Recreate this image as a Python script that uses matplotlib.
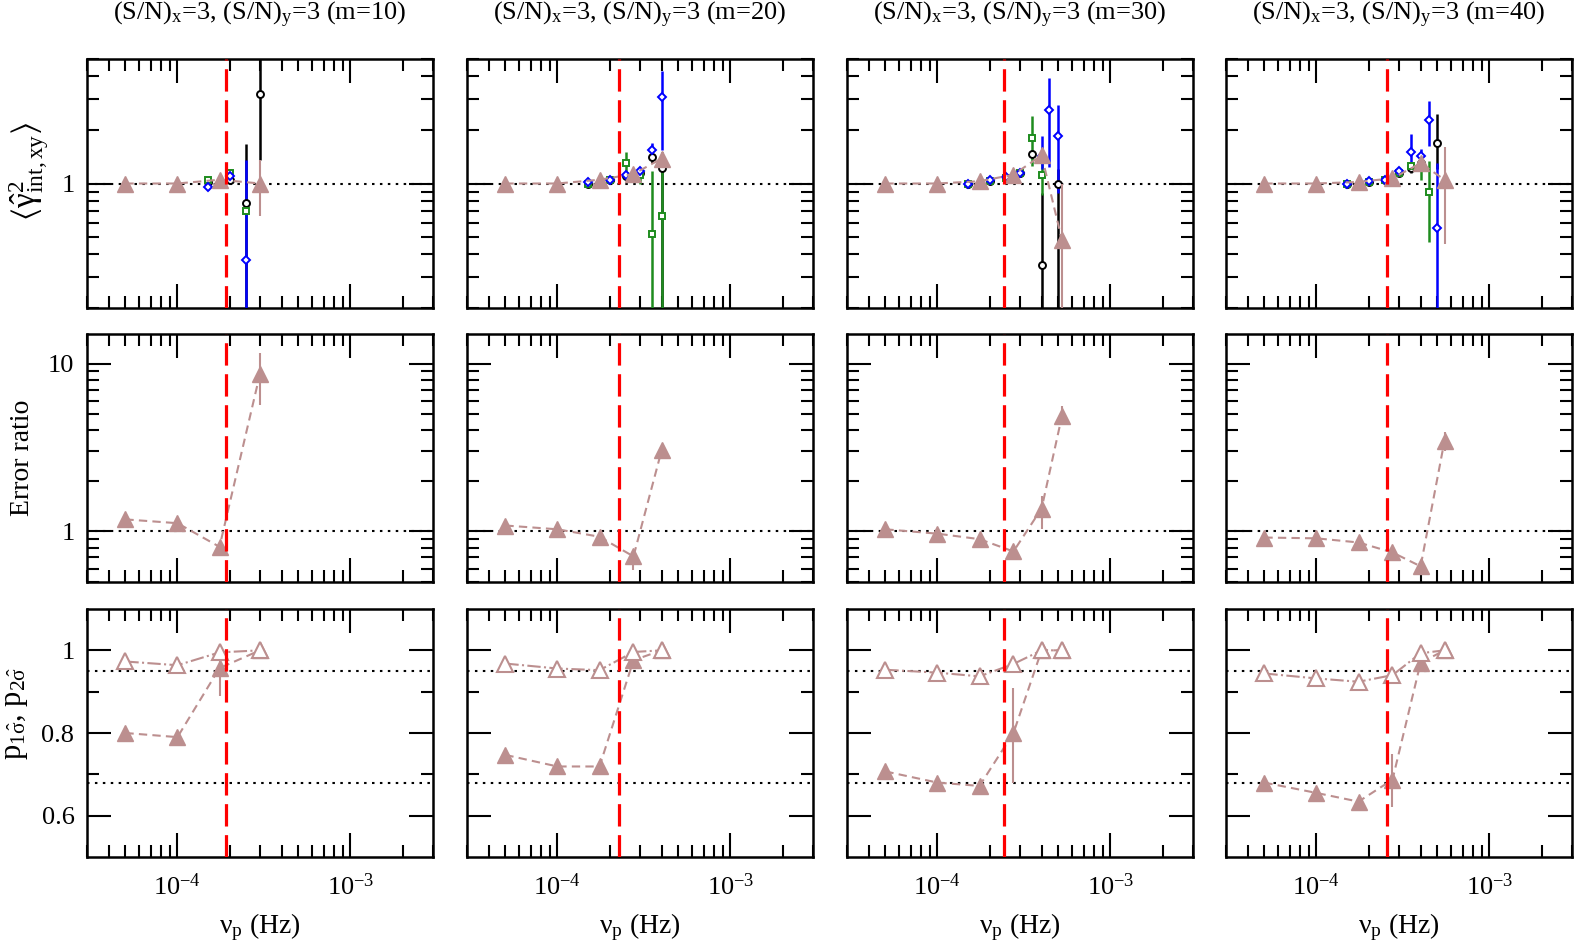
import numpy as np
import matplotlib
matplotlib.use("Agg")
import matplotlib.pyplot as plt
from matplotlib import ticker

plt.rcParams['font.family'] = ['Liberation Serif', 'DejaVu Serif']
plt.rcParams['mathtext.fontset'] = 'custom'
plt.rcParams['mathtext.rm'] = 'Liberation Serif'
plt.rcParams['mathtext.it'] = 'Liberation Serif:italic'
plt.rcParams['mathtext.default'] = 'regular'
plt.rcParams['font.size'] = 19

# ---- data ----
m_values = [10, 20, 30, 40]
nu_break = [1.92e-4, 2.28e-4, 2.44e-4, 2.57e-4]

# brown triangles (same x for all three rows)
nu_tri = [
    [5e-5, 1e-4, 1.75e-4, 3e-4],
    [5e-5, 1e-4, 1.75e-4, 2.75e-4, 4e-4],
    [5e-5, 1e-4, 1.75e-4, 2.75e-4, 4e-4, 5.25e-4],
    [5e-5, 1e-4, 1.75e-4, 2.75e-4, 4e-4, 5.5e-4],
]
gamma_tri = [
    [1.0, 1.0, 1.05, 1.0],
    [1.0, 1.0, 1.05, 1.13, 1.38],
    [1.0, 1.0, 1.03, 1.12, 1.44, 0.48],
    [1.0, 1.0, 1.02, 1.07, 1.30, 1.05],
]
gamma_tri_lo = [
    [1.0, 1.0, 1.05, 0.66],
    [1.0, 1.0, 1.05, 1.13, 1.30],
    [1.0, 1.0, 1.03, 1.12, 1.38, 0.05],
    [1.0, 1.0, 1.02, 1.07, 1.22, 0.46],
]
gamma_tri_hi = [
    [1.0, 1.0, 1.05, 1.35],
    [1.0, 1.0, 1.05, 1.13, 1.46],
    [1.0, 1.0, 1.03, 1.12, 1.50, 1.0],
    [1.0, 1.0, 1.02, 1.07, 1.38, 1.60],
]

# error ratio
ratio = [
    [1.18, 1.12, 0.81, 8.7],
    [1.085, 1.03, 0.93, 0.71, 3.04],
    [1.03, 0.97, 0.90, 0.76, 1.37, 4.9],
    [0.92, 0.91, 0.86, 0.75, 0.62, 3.48],
]
ratio_lo = [
    [1.18, 1.12, 0.81, 5.7],
    [1.085, 1.03, 0.93, 0.59, 2.9],
    [1.03, 0.97, 0.90, 0.76, 1.03, 4.3],
    [0.92, 0.91, 0.86, 0.75, 0.62, 3.0],
]
ratio_hi = [
    [1.18, 1.12, 0.81, 11.6],
    [1.085, 1.03, 0.93, 0.71, 3.2],
    [1.03, 0.97, 0.90, 0.76, 1.62, 5.6],
    [0.92, 0.91, 0.86, 0.75, 0.62, 3.9],
]

# coverage probabilities
p1sig = [
    [0.80, 0.79, 0.957, 1.0],
    [0.747, 0.719, 0.719, 0.976, 1.0],
    [0.707, 0.68, 0.672, 0.80, 1.0, 1.0],
    [0.68, 0.655, 0.634, 0.687, 0.97, 1.0],
]
p1sig_lo = [
    [0.80, 0.79, 0.89, 1.0],
    [0.747, 0.719, 0.719, 0.96, 1.0],
    [0.707, 0.68, 0.672, 0.68, 1.0, 1.0],
    [0.68, 0.655, 0.634, 0.62, 0.97, 1.0],
]
p1sig_hi = [
    [0.80, 0.79, 0.99, 1.0],
    [0.747, 0.719, 0.719, 0.99, 1.0],
    [0.707, 0.68, 0.672, 0.908, 1.0, 1.0],
    [0.68, 0.655, 0.634, 0.75, 0.97, 1.0],
]
p2sig = [
    [0.973, 0.964, 0.995, 1.0],
    [0.968, 0.956, 0.952, 0.996, 1.0],
    [0.953, 0.946, 0.937, 0.967, 1.0, 1.0],
    [0.944, 0.932, 0.924, 0.94, 0.993, 1.0],
]

# coloured estimators in the top row
nu_est = [
    [1.5e-4, 2e-4, 2.5e-4, 3e-4],
    [1.5e-4, 2e-4, 2.5e-4, 3e-4, 3.5e-4, 4e-4],
    [1.5e-4, 2e-4, 2.5e-4, 3e-4, 3.5e-4, 4e-4, 4.4e-4, 5e-4],
    [1.5e-4, 2e-4, 2.5e-4, 3e-4, 3.5e-4, 4e-4, 4.5e-4, 5e-4],
]
nan = np.nan
black_y = [
    [1.02, 1.05, 0.78, 3.18],
    [1.0, 1.04, 1.10, 1.15, 1.40, 1.22],
    [1.0, 1.03, 1.08, 1.15, 1.46, 0.35, nan, 1.0],
    [1.0, 1.02, 1.05, 1.14, 1.22, 1.30, nan, 1.68],
]
black_lo = [
    [1.0, 1.02, 0.05, 1.35],
    [0.98, 1.02, 1.07, 1.10, 1.30, 0.05],
    [0.98, 1.01, 1.05, 1.10, 1.38, 0.05, nan, 0.05],
    [0.98, 1.0, 1.03, 1.10, 1.15, 1.22, nan, 1.20],
]
black_hi = [
    [1.04, 1.08, 1.66, 10.0],
    [1.02, 1.06, 1.13, 1.20, 1.50, 1.50],
    [1.02, 1.05, 1.11, 1.20, 1.55, 0.88, nan, 1.20],
    [1.02, 1.04, 1.07, 1.18, 1.30, 1.38, nan, 2.45],
]
green_y = [
    [1.04, 1.15, 0.70, nan],
    [1.0, 1.04, 1.30, 1.12, 0.52, 0.66],
    [1.0, 1.03, 1.08, 1.15, 1.80, 1.12, nan, nan],
    [1.0, 1.02, 1.05, 1.14, 1.25, 1.22, 0.90, nan],
]
green_lo = [
    [1.02, 1.08, 0.62, nan],
    [0.98, 1.02, 1.11, 1.0, 0.05, 0.05],
    [0.98, 1.01, 1.05, 1.10, 1.25, 0.86, nan, nan],
    [0.98, 1.0, 1.03, 1.10, 1.18, 1.05, 0.47, nan],
]
green_hi = [
    [1.06, 1.20, 0.80, nan],
    [1.02, 1.06, 1.50, 1.20, 1.17, 1.20],
    [1.02, 1.05, 1.11, 1.20, 2.39, 1.30, nan, nan],
    [1.02, 1.04, 1.07, 1.18, 1.32, 1.35, 1.33, nan],
]
blue_y = [
    [0.96, 1.10, 0.37, nan],
    [1.02, 1.05, 1.11, 1.17, 1.54, 3.06],
    [1.0, 1.04, 1.09, 1.15, nan, 1.42, 2.58, 1.84],
    [1.0, 1.03, 1.05, 1.17, 1.50, 1.42, 2.27, 0.56],
]
blue_lo = [
    [0.92, 1.05, 0.05, nan],
    [1.0, 1.03, 1.08, 1.12, 1.44, 1.54],
    [0.98, 1.02, 1.06, 1.10, nan, 1.20, 1.23, 0.88],
    [0.98, 1.01, 1.03, 1.12, 1.25, 1.28, 1.62, 0.05],
]
blue_hi = [
    [1.0, 1.16, 1.35, nan],
    [1.04, 1.07, 1.14, 1.22, 1.68, 4.3],
    [1.02, 1.06, 1.12, 1.20, nan, 1.85, 3.9, 2.76],
    [1.02, 1.05, 1.07, 1.22, 1.89, 1.56, 2.9, 1.30],
]

brown = '#bc8f8f'
green = '#1e8c1e'


def yerr(y, lo, hi):
    y, lo, hi = np.asarray(y), np.asarray(lo), np.asarray(hi)
    return [y - lo, hi - y]


def style_axis(ax, logy):
    ax.set_xscale('log')
    ax.set_xlim(3e-5, 3e-3)
    if logy:
        ax.set_yscale('log')
        ax.yaxis.set_minor_locator(ticker.LogLocator(base=10, subs=np.arange(2, 10)))
    ax.xaxis.set_minor_locator(ticker.LogLocator(base=10, subs=np.arange(2, 10)))
    ax.xaxis.set_minor_formatter(ticker.NullFormatter())
    ax.yaxis.set_minor_formatter(ticker.NullFormatter())
    ax.tick_params(which='both', direction='in', top=True, right=True, width=1.5)
    ax.tick_params(which='major', length=17, pad=9)
    ax.tick_params(axis='x', which='major', pad=12)
    ax.tick_params(which='minor', length=8.5)
    for s in ax.spines.values():
        s.set_linewidth(1.8)


fig = plt.figure(figsize=(15.75, 9.48), dpi=100)
lefts = [87, 467, 847, 1226]
rows = [(59, 308), (334, 582), (609, 857)]
W, H = 1575.0, 948.0
dot = (0, (1.2, 2.6))

for j in range(4):
    axs = []
    for (top, bot) in rows:
        axs.append(fig.add_axes([lefts[j] / W, 1 - bot / H, 346 / W, (bot - top) / H]))
    ax1, ax2, ax3 = axs

    # --- top row ---
    style_axis(ax1, True)
    ax1.set_ylim(0.2, 5)
    ax1.axhline(1, color='k', ls=dot, lw=1.5, zorder=1)
    x = np.array(nu_est[j])
    for col, mk, ys, los, his in [('k', 'o', black_y, black_lo, black_hi),
                                  (green, 's', green_y, green_lo, green_hi),
                                  ('b', 'D', blue_y, blue_lo, blue_hi)]:
        y = np.array(ys[j]); lo = np.array(los[j]); hi = np.array(his[j])
        ok = ~np.isnan(y)
        ax1.errorbar(x[ok], y[ok], yerr=yerr(y[ok], lo[ok], hi[ok]), fmt=mk, color=col,
                     mfc='white', ms=5 if mk != 'D' else 4.2, mew=1.4,
                     elinewidth=1.8, capsize=0, zorder=3)
    ax1.errorbar(nu_tri[j], gamma_tri[j], yerr=yerr(gamma_tri[j], gamma_tri_lo[j], gamma_tri_hi[j]),
                 color=brown, ls=(0, (4, 2.5)), lw=1.5, marker='^', ms=12, elinewidth=1.5,
                 capsize=0, zorder=4)
    ax1.xaxis.set_major_formatter(ticker.NullFormatter())
    fig.text((lefts[j] + 173) / W, 1 - 15 / H,
             f'(S/N)$_x$=3, (S/N)$_y$=3 (m={m_values[j]})', ha='center', va='center', fontsize=19)

    # --- middle row ---
    style_axis(ax2, True)
    ax2.set_ylim(0.5, 15)
    ax2.axhline(1, color='k', ls=dot, lw=1.5, zorder=1)
    ax2.errorbar(nu_tri[j], ratio[j], yerr=yerr(ratio[j], ratio_lo[j], ratio_hi[j]),
                 color=brown, ls=(0, (4, 2.5)), lw=1.5, marker='^', ms=12, elinewidth=1.5,
                 capsize=0, zorder=4)
    ax2.xaxis.set_major_formatter(ticker.NullFormatter())

    # --- bottom row ---
    style_axis(ax3, False)
    ax3.set_ylim(0.5, 1.1)
    ax3.set_yticks([0.6, 0.8, 1.0])
    ax3.set_yticks([0.7, 0.9], minor=True)
    ax3.axhline(0.95, color='k', ls=dot, lw=1.5, zorder=1)
    ax3.axhline(0.68, color='k', ls=dot, lw=1.5, zorder=1)
    ax3.errorbar(nu_tri[j], p1sig[j], yerr=yerr(p1sig[j], p1sig_lo[j], p1sig_hi[j]),
                 color=brown, ls=(0, (4, 2.5)), lw=1.5, marker='^', ms=12, elinewidth=1.5,
                 capsize=0, zorder=4)
    ax3.plot(nu_tri[j], p2sig[j], color=brown, ls='-.', lw=1.5, marker='^', ms=12,
             mfc='white', mec=brown, mew=1.5, zorder=5)
    ax3.set_xlabel(r'$\nu_p$ (Hz)', fontsize=20, labelpad=8)

    for ax in axs:
        ax.axvline(nu_break[j], color='red', lw=2.3, ls=(0, (7, 2.7)), zorder=6)
        if j > 0:
            ax.yaxis.set_major_formatter(ticker.NullFormatter())

    if j == 0:
        ax1.yaxis.set_major_formatter(ticker.FixedFormatter(['1']))
        ax1.yaxis.set_major_locator(ticker.FixedLocator([1.0]))
        ax2.yaxis.set_major_locator(ticker.FixedLocator([1.0, 10.0]))
        ax2.yaxis.set_major_formatter(ticker.FixedFormatter(['1', '10']))
        ax3.set_yticklabels(['0.6', '0.8', '1'])
        ax1.set_ylabel(r'$\langle\hat{\gamma}^{2}_{int,xy}\rangle$', fontsize=24)
        ax1.yaxis.set_label_coords(-0.10, 0.55)
        ax2.set_ylabel('Error ratio', fontsize=20)
        ax2.yaxis.set_label_coords(-0.15, 0.5)
        ax3.set_ylabel(r'p$_{1\hat{\sigma}}$, p$_{2\hat{\sigma}}$', fontsize=22)
        ax3.yaxis.set_label_coords(-0.165, 0.58)
    else:
        ax1.yaxis.set_major_locator(ticker.FixedLocator([1.0]))
        ax2.yaxis.set_major_locator(ticker.FixedLocator([1.0, 10.0]))

fig.savefig('out.png', dpi=100)
